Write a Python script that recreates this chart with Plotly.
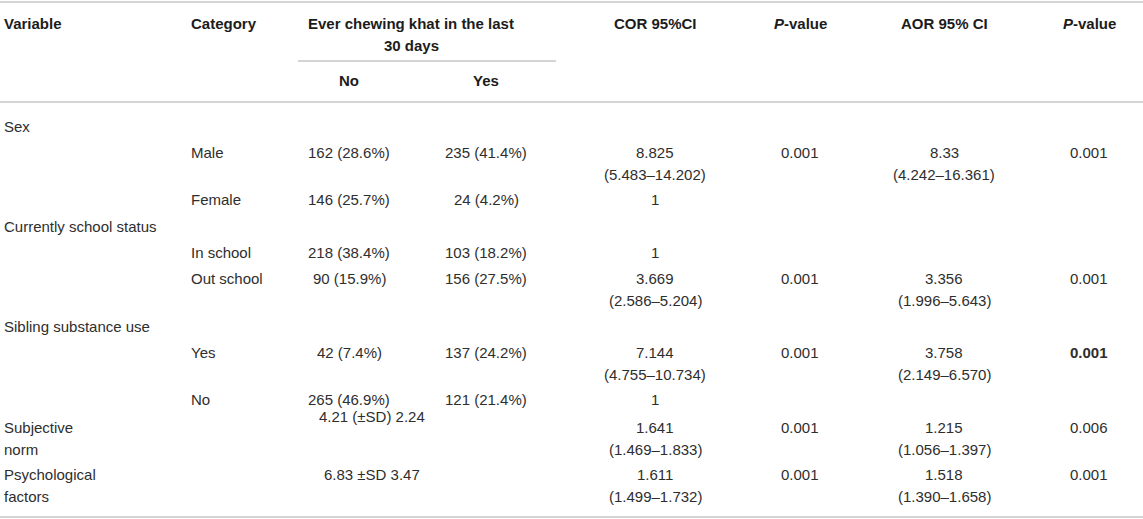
import plotly.graph_objects as go

# table content, one entry per body row
variables = ["Sex", "", "", "Currently school status", "", "", "Sibling substance use", "", "",
             "Subjective\nnorm", "Psychological\nfactors"]
categories = ["", "Male", "Female", "", "In school", "Out school", "", "Yes", "No", "", ""]
khat_no = ["", "162 (28.6%)", "146 (25.7%)", "", "218 (38.4%)", "90 (15.9%)", "", "42 (7.4%)",
           "265 (46.9%)", "", ""]
khat_yes = ["", "235 (41.4%)", "24 (4.2%)", "", "103 (18.2%)", "156 (27.5%)", "", "137 (24.2%)",
            "121 (21.4%)", "", ""]
khat_mean = ["", "", "", "", "", "", "", "", "", "4.21 (\u00b1SD) 2.24", "6.83 \u00b1SD 3.47"]
cor_ci = ["", "8.825\n(5.483\u201314.202)", "1", "", "1", "3.669\n(2.586\u20135.204)", "",
          "7.144\n(4.755\u201310.734)", "1", "1.641\n(1.469\u20131.833)", "1.611\n(1.499\u20131.732)"]
cor_p = ["", "0.001", "", "", "", "0.001", "", "0.001", "", "0.001", "0.001"]
aor_ci = ["", "8.33\n(4.242\u201316.361)", "", "", "", "3.356\n(1.996\u20135.643)", "",
          "3.758\n(2.149\u20136.570)", "", "1.215\n(1.056\u20131.397)", "1.518\n(1.390\u20131.658)"]
aor_p = ["", "0.001", "", "", "", "0.001", "", "<b>0.001</b>", "", "0.006", "0.001"]

headers = ["Variable", "Category", "Ever chewing khat in the last\n30 days", "COR 95%CI",
           "<i>P</i>-value", "AOR 95% CI", "<i>P</i>-value"]
sub_headers = ["No", "Yes"]

# layout (pixels of the 1143x519 page)
W, H = 1143, 519
row_y = [126, 152, 199, 226, 252, 278, 326, 352, 399, 427, 474]
mean_dy = [0, 0, 0, 0, 0, 0, 0, 0, 0, -11, 0]
line_gap = 22
col_x = {"var": 3, "cat": 190, "no": 349, "yes": 486, "mean": 372,
         "cor": 655, "p1": 800, "aor": 944, "p2": 1089}
head_x = [col_x["var"], col_x["cat"], 411, col_x["cor"], col_x["p1"], col_x["aor"], col_x["p2"]]
head_anchor = ["left", "left", "center", "center", "center", "center", "center"]

BODY = dict(family="Liberation Sans, Arial, sans-serif", size=15, color="#2e2e2e")
HEAD = dict(family="Liberation Sans, Arial, sans-serif", size=15, color="#1c1c1c")
LINE = "#c6c6c6"

annotations = []


def add_cell(text, x, y, anchor, font, bold=False):
    for i, part in enumerate(text.split("\n")):
        if not part:
            continue
        annotations.append(dict(
            x=x, y=y + i * line_gap, xref="x", yref="y", text=f"<b>{part}</b>" if bold else part,
            showarrow=False, xanchor=anchor, yanchor="middle", font=font, borderpad=0))


for i, h in enumerate(headers):
    add_cell(h, head_x[i], 23, head_anchor[i], HEAD, bold=True)
add_cell(sub_headers[0], col_x["no"], 80, "center", HEAD, bold=True)
add_cell(sub_headers[1], col_x["yes"], 80, "center", HEAD, bold=True)

for r, y in enumerate(row_y):
    add_cell(variables[r], col_x["var"], y, "left", BODY)
    add_cell(categories[r], col_x["cat"], y, "left", BODY)
    add_cell(khat_no[r], col_x["no"], y, "center", BODY)
    add_cell(khat_yes[r], col_x["yes"], y, "center", BODY)
    add_cell(khat_mean[r], col_x["mean"], y + mean_dy[r], "center", BODY)
    add_cell(cor_ci[r], col_x["cor"], y, "center", BODY)
    add_cell(cor_p[r], col_x["p1"], y, "center", BODY)
    add_cell(aor_ci[r], col_x["aor"], y, "center", BODY)
    add_cell(aor_p[r], col_x["p2"], y, "center", BODY)

shapes = [
    dict(type="line", x0=0, x1=W, y0=2, y1=2, line=dict(color=LINE, width=1.5)),
    dict(type="line", x0=298, x1=556, y0=61, y1=61, line=dict(color=LINE, width=1.5)),
    dict(type="line", x0=0, x1=W, y0=102, y1=102, line=dict(color=LINE, width=1.5)),
    dict(type="line", x0=0, x1=W, y0=517, y1=517, line=dict(color=LINE, width=1.5)),
]
for s in shapes:
    s.update(xref="x", yref="y")

fig = go.Figure()
fig.update_layout(
    width=W, height=H, margin=dict(l=0, r=0, t=0, b=0),
    paper_bgcolor="white", plot_bgcolor="white", showlegend=False,
    xaxis=dict(range=[0, W], visible=False, fixedrange=True),
    yaxis=dict(range=[H, 0], visible=False, fixedrange=True),
    annotations=annotations, shapes=shapes,
)
# drop the browser's default 8px body margin so the figure sits at the page corner
fig.write_html("out.html", config={"displayModeBar": False},
               post_script="document.body.style.margin='0';document.body.style.overflow='hidden';")
